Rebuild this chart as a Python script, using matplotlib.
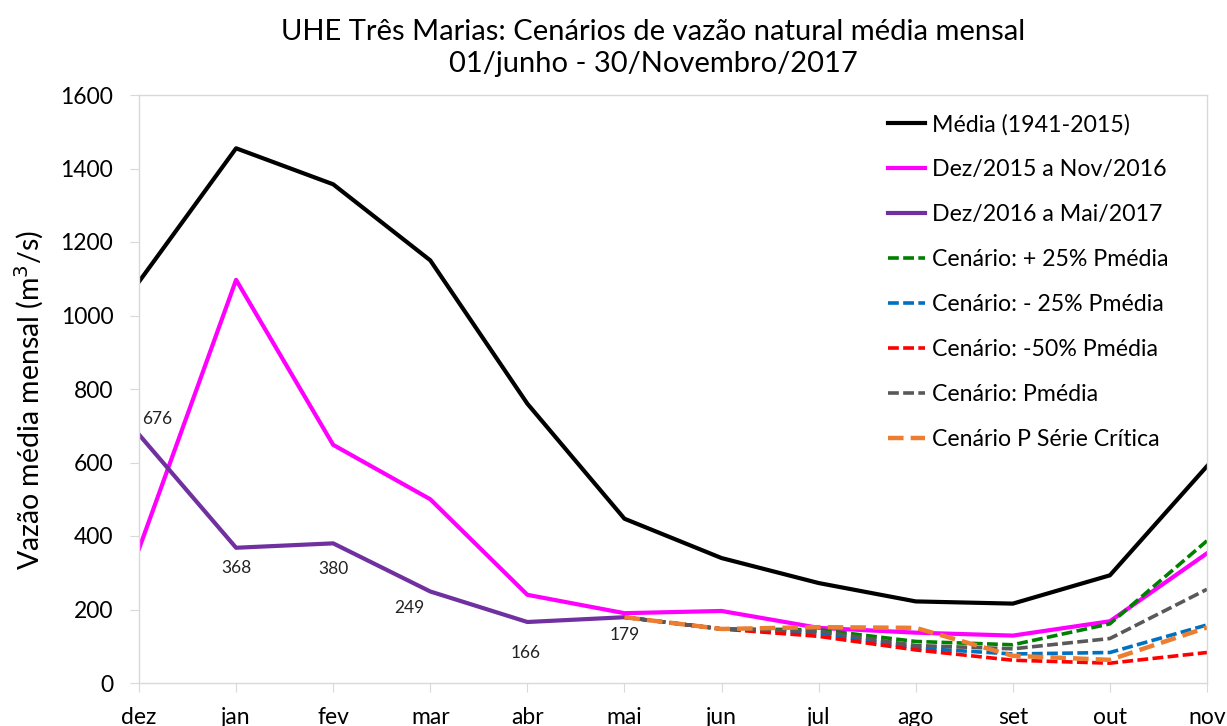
import matplotlib
matplotlib.use("Agg")
import matplotlib.pyplot as plt

plt.rcParams['font.family'] = ['Lato', 'DejaVu Sans']

months = ["dez", "jan", "fev", "mar", "abr", "mai", "jun", "jul", "ago", "set", "out", "nov"]
media = [1092, 1455, 1357, 1150, 760, 447, 340, 272, 222, 216, 293, 590]
dez15_nov16 = [365, 1097, 648, 500, 240, 190, 196, 150, 137, 129, 168, 353]
dez16_mai17 = [676, 368, 380, 249, 166, 179]
scen_months = ["mai", "jun", "jul", "ago", "set", "out", "nov"]
cen_mais25 = [179, 147, 145, 113, 104, 161, 387]
cen_menos25 = [179, 147, 136, 95, 79, 83, 158]
cen_menos50 = [179, 147, 127, 90, 62, 54, 83]
cen_pmedia = [179, 147, 141, 102, 93, 121, 255]
cen_critica = [179, 147, 152, 150, 74, 63, 151]
yticks = [0, 200, 400, 600, 800, 1000, 1200, 1400, 1600]

W, H = 1227, 726
fig = plt.figure(figsize=(W / 100, H / 100), dpi=100)
ax = fig.add_axes([139 / W, 1 - 683 / H, (1207 - 139) / W, (683 - 95) / H])

xi = list(range(len(months)))
xs = [months.index(m) for m in scen_months]
xp = xi[:len(dez16_mai17)]

ax.plot(xi, media, color="black", lw=3.0, label="Média (1941-2015)")
ax.plot(xi, dez15_nov16, color="#FF00FF", lw=3.0, label="Dez/2015 a Nov/2016")
ax.plot(xp, dez16_mai17, color="#7030A0", lw=3.0, label="Dez/2016 a Mai/2017")
dash = (0, (3, 1.2))
ax.plot(xs, cen_mais25, color="#008000", lw=2.6, ls=dash, label="Cenário: + 25% Pmédia")
ax.plot(xs, cen_menos25, color="#0070C0", lw=2.6, ls=dash, label="Cenário: - 25% Pmédia")
ax.plot(xs, cen_menos50, color="#FF0000", lw=2.6, ls=dash, label="Cenário: -50% Pmédia")
ax.plot(xs, cen_pmedia, color="#595959", lw=2.6, ls=dash, label="Cenário: Pmédia")
ax.plot(xs, cen_critica, color="#ED7D31", lw=3.2, ls=(0, (3.5, 1.6)), label="Cenário P Série Crítica")

# data labels for Dez/2016 a Mai/2017 (offsets in pixels)
offsets = [(18, 16), (0, -20), (0, -26), (-21, -17), (-2, -31), (0, -18)]
for x, v, (dx, dy) in zip(xp, dez16_mai17, offsets):
    ax.annotate(str(v), (x, v), xytext=(dx * 0.72, dy * 0.72), textcoords="offset points",
                ha="center", va="center", fontsize=12.5, color="#222222")

ax.set_xlim(0, 11)
ax.set_ylim(0, 1600)
ax.set_yticks(yticks)
ax.set_xticks(xi)
ax.set_xticklabels(months)
ax.tick_params(axis="both", labelsize=16.5, colors="#D9D9D9", labelcolor="black", length=6.5)
ax.tick_params(axis="x", pad=11)
ax.tick_params(axis="y", pad=12)
for s in ax.spines.values():
    s.set_color("#D9D9D9")
    s.set_linewidth(1.0)

ax.set_ylabel("Vazão média mensal (m$^3$/s)", fontsize=20.5)
ax.yaxis.set_label_coords((46 - 139) / (1207 - 139), (683 - 400) / (683 - 95))
fig.text(653 / W, 1 - 48 / H,
         "UHE Três Marias: Cenários de vazão natural média mensal\n01/junho - 30/Novembro/2017",
         fontsize=21, ha="center", va="center", linespacing=1.3)

leg = fig.legend(*ax.get_legend_handles_labels(), loc="upper left",
                 bbox_to_anchor=(888 / W, 1 - 114 / H), frameon=False, fontsize=16.7,
                 handlelength=1.6, handletextpad=0.3, labelspacing=1.03,
                 borderaxespad=0, borderpad=0)

fig.savefig("out.png", dpi=100)
